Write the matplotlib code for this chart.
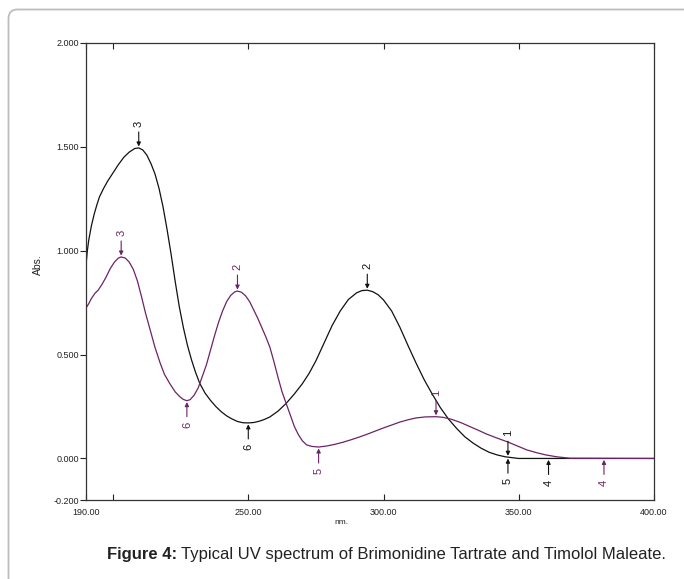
import numpy as np
import matplotlib
matplotlib.use('Agg')
import matplotlib.pyplot as plt
from matplotlib.patches import FancyBboxPatch
from matplotlib.transforms import IdentityTransform

plt.rcParams['font.family'] = ['Liberation Sans', 'DejaVu Sans']

# ── data ─────────────────────────────────────────────────────────────────────
black_nm = [190, 190.5, 191, 192, 193, 194, 195, 196.5, 198, 200, 202, 204, 206,
            208, 209.5, 211, 212.5, 214, 215.5, 217, 218.5, 220, 221.5, 223,
            224.5, 226, 227.5, 229, 230.5, 232, 234, 236, 238, 240, 242, 244,
            246, 248, 250, 252, 254, 256, 258, 261, 264, 267, 270, 272.5, 275,
            278, 281, 284, 287, 290, 292, 294, 296, 298, 300, 303, 306, 309,
            312, 315, 318, 321, 324, 327, 330, 333, 336, 339, 342, 345, 348,
            350, 400]
black_abs = [0.93, 1.0, 1.05, 1.12, 1.175, 1.22, 1.26, 1.30, 1.335, 1.375,
             1.415, 1.45, 1.475, 1.492, 1.495, 1.485, 1.46, 1.42, 1.37, 1.30,
             1.21, 1.10, 0.98, 0.85, 0.73, 0.63, 0.545, 0.475, 0.415, 0.363,
             0.315, 0.28, 0.25, 0.225, 0.205, 0.19, 0.178, 0.172, 0.171, 0.173,
             0.179, 0.188, 0.20, 0.228, 0.265, 0.31, 0.36, 0.41, 0.47, 0.555,
             0.64, 0.71, 0.765, 0.797, 0.808, 0.81, 0.803, 0.788, 0.763, 0.71,
             0.633, 0.545, 0.46, 0.38, 0.31, 0.245, 0.19, 0.145, 0.105, 0.075,
             0.05, 0.03, 0.017, 0.008, 0.003, 0.0, 0.0]

purple_nm = [190, 191, 192, 193.3, 194.5, 196, 197.5, 199, 200.5, 202, 203,
             204.5, 206, 207.5, 209, 210.5, 212, 213.7, 215.5, 217.4, 219, 221,
             223, 224.8, 226, 227.3, 228.5, 230, 231.5, 233, 234.5, 236, 237.5,
             239, 240.5, 242, 243.5, 245, 246, 247.5, 249, 250.5, 252, 253.5,
             255, 256.5, 258, 259.5, 261, 262.5, 264, 265.5, 267, 268.5, 270,
             271.6, 273.5, 276, 279, 282, 285, 288, 291, 294, 297, 300, 303,
             306, 309, 312, 315.5, 319.4, 322, 325, 328.5, 332, 335, 338, 342,
             346, 349.5, 353, 356.5, 360, 364, 369, 400]
purple_abs = [0.724, 0.745, 0.77, 0.795, 0.81, 0.84, 0.875, 0.915, 0.945, 0.965,
              0.97, 0.965, 0.945, 0.91, 0.855, 0.78, 0.70, 0.62, 0.535, 0.46,
              0.405, 0.36, 0.32, 0.296, 0.284, 0.278, 0.283, 0.305, 0.34, 0.395,
              0.45, 0.52, 0.59, 0.655, 0.71, 0.755, 0.785, 0.802, 0.806, 0.80,
              0.783, 0.755, 0.715, 0.675, 0.63, 0.585, 0.535, 0.465, 0.39, 0.32,
              0.265, 0.21, 0.155, 0.115, 0.085, 0.065, 0.058, 0.055, 0.06, 0.068,
              0.078, 0.09, 0.103, 0.117, 0.132, 0.147, 0.161, 0.175, 0.186,
              0.195, 0.2, 0.201, 0.198, 0.189, 0.173, 0.153, 0.136, 0.118,
              0.098, 0.079, 0.06, 0.041, 0.028, 0.017, 0.008, 0.001, 0.0]

# peak / valley picks: label, nm, abs, side (1 = above, -1 = below)
black_pick_lbl = ['3', '2', '1', '6', '5', '4']
black_pick_nm = [209.5, 294, 346, 250, 346, 361]
black_pick_abs = [1.495, 0.81, 0.006, 0.171, 0.006, 0.0]
black_pick_side = [1, 1, 1, -1, -1, -1]

purple_pick_lbl = ['3', '2', '1', '6', '5', '4']
purple_pick_nm = [203, 246, 319.4, 227.3, 276, 381.5]
purple_pick_abs = [0.97, 0.806, 0.201, 0.278, 0.055, 0.0]
purple_pick_side = [1, 1, 1, -1, -1, -1]

x_ticks = [190, 200, 250, 300, 350, 400]
x_ticklabels = ['190.00', '', '250.00', '300.00', '350.00', '400.00']
y_ticks = [2.0, 1.5, 1.0, 0.5, 0.0, -0.2]
y_ticklabels = ['2.000', '1.500', '1.000', '0.500', '0.000', '-0.200']

BLACK = '#111111'
PURPLE = '#6a2467'

# ── figure ───────────────────────────────────────────────────────────────────
fig = plt.figure(figsize=(6.84, 5.79), dpi=100)
ax = fig.add_axes([86 / 684, 1 - 500 / 579, 568 / 684, 457 / 579])

ax.plot(black_nm, black_abs, color=BLACK, lw=0.9)
ax.plot(purple_nm, purple_abs, color=PURPLE, lw=0.9)


def picks(lbls, nms, vals, sides, col):
    for lb, x, y, s in zip(lbls, nms, vals, sides):
        ax.annotate('', xy=(x, y), xycoords='data',
                    xytext=(0, 16 * s), textcoords='offset pixels',
                    arrowprops=dict(arrowstyle='-|>', color=col, lw=0.8,
                                    mutation_scale=6, shrinkA=0, shrinkB=1))
        ax.annotate(lb, xy=(x, y), xycoords='data',
                    xytext=(0, 24 * s), textcoords='offset pixels',
                    rotation=90, ha='center', va='center',
                    fontsize=8, color=col)


picks(black_pick_lbl, black_pick_nm, black_pick_abs, black_pick_side, BLACK)
picks(purple_pick_lbl, purple_pick_nm, purple_pick_abs, purple_pick_side, PURPLE)

ax.set_xlim(190, 400)
ax.set_ylim(-0.2, 2.0)
ax.set_xticks(x_ticks)
ax.set_xticklabels(x_ticklabels)
ax.set_yticks(y_ticks)
ax.set_yticklabels(y_ticklabels)
ax.tick_params(axis='x', direction='in', length=4, width=0.8, top=True,
               labelsize=6.5, pad=6, colors='#222222')
ax.tick_params(axis='y', direction='out', length=4, width=0.8,
               labelsize=6.5, pad=1, colors='#222222')
for sp in ax.spines.values():
    sp.set_linewidth(0.9)
    sp.set_color('#333333')

fig.text(38 / 684, 1 - 265 / 579, 'Abs.', rotation=90, ha='center',
         va='center', fontsize=7.5, color='#222222')
fig.text(341 / 684, 1 - 523 / 579, 'nm.', ha='center', va='center',
         fontsize=6, color='#222222')

# caption
cap = fig.text(107 / 684, 1 - 554 / 579, 'Figure 4:', ha='left', va='center',
               fontsize=12, fontweight='bold', color='#222222')
fig.canvas.draw()
bb = cap.get_window_extent()
fig.text((bb.x1 + 4) / 684, 1 - 554 / 579,
         'Typical UV spectrum of Brimonidine Tartrate and Timolol Maleate.',
         ha='left', va='center', fontsize=12, color='#222222')

# rounded frame around the figure
frame = FancyBboxPatch((8.5, -30), 720, 599.5,
                       boxstyle='round,pad=0,rounding_size=9',
                       transform=IdentityTransform(), fill=False,
                       edgecolor='#bdbdbd', lw=1.3)
fig.patches.append(frame)

fig.savefig('out.png', dpi=100)
